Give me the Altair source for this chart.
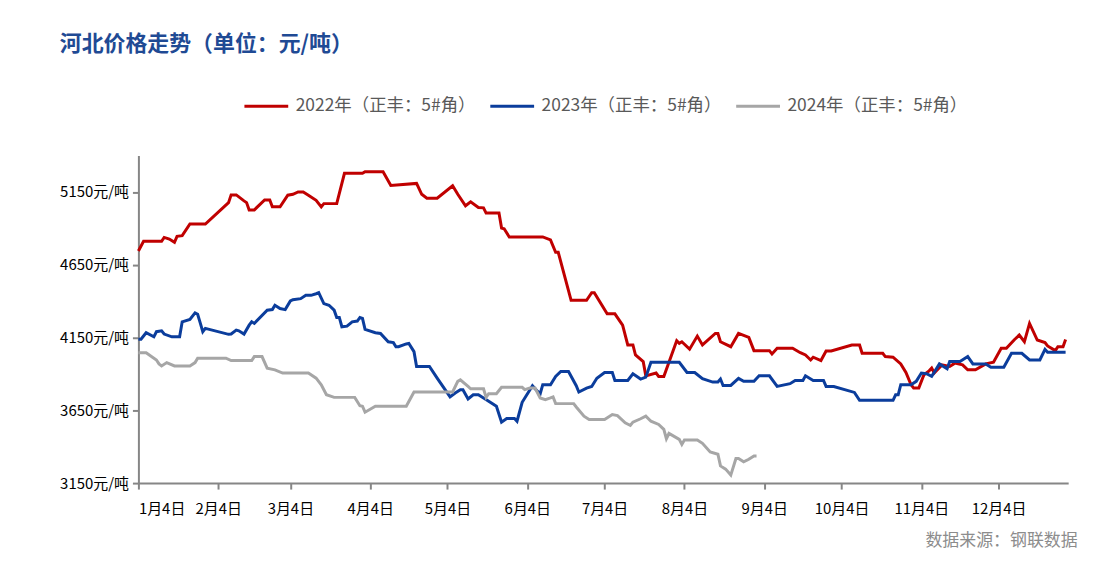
import altair as alt
import pandas as pd

series_names = ["2022年（正丰：5#角）", "2023年（正丰：5#角）", "2024年（正丰：5#角）"]
series_colors = ["#C00000", "#0B3D9C", "#A6A6A6"]

dates_2022 = ["01-04","01-06","01-13","01-14","01-16","01-18","01-19","01-21","01-24","01-30",
              "02-08","02-09","02-11","02-14","02-15","02-16","02-18","02-22","02-24","02-25","02-28",
              "03-03","03-05","03-07","03-09","03-11","03-14","03-16","03-17","03-22","03-25",
              "04-01","04-02","04-09","04-12","04-22","04-24","04-26","04-30",
              "05-06","05-08","05-11","05-13","05-16","05-18","05-19","05-24","05-25","05-26","05-28",
              "06-10","06-13","06-15","06-16","06-21","06-27","06-29","06-30",
              "07-05","07-08","07-11","07-13","07-15","07-16","07-19","07-20","07-24","07-25","07-27",
              "08-01","08-02","08-03","08-06","08-09","08-11","08-16","08-17","08-18","08-22","08-25","08-29","08-31",
              "09-06","09-07","09-09","09-15","09-18","09-20","09-22","09-23","09-26","09-28","09-30",
              "10-08","10-11","10-12","10-20","10-21","10-24","10-27","10-29","10-31",
              "11-01","11-03","11-05","11-07","11-08","11-09","11-12","11-15","11-17","11-20","11-22","11-25","11-29",
              "12-02","12-05","12-07","12-10","12-12","12-14","12-16","12-19","12-22","12-23","12-26","12-27","12-29","12-30"]
values_2022 = [4745,4811,4811,4838,4827,4804,4845,4850,4930,4930,
               5077,5130,5130,5089,5077,5027,5027,5095,5095,5048,5048,
               5128,5134,5150,5150,5128,5093,5048,5070,5070,5278,
               5278,5289,5289,5195,5209,5134,5107,5107,
               5193,5134,5055,5082,5043,5041,5005,5005,4902,4897,4841,
               4841,4821,4736,4736,4406,4406,4458,4458,
               4313,4313,4235,4099,4099,4030,3985,3887,3906,3883,3883,
               4128,4110,4121,4070,4160,4099,4178,4178,4121,4087,4178,4151,4060,
               4060,4037,4076,4076,4046,4030,3996,4015,3992,4058,4058,
               4099,4099,4042,4042,4019,4015,3969,3910,3826,
               3803,3803,3894,3921,3940,3906,3962,3951,3974,3962,3928,3928,3969,
               3980,4076,4076,4133,4167,4121,4247,4133,4115,4092,4060,4087,4087,4137]

dates_2023 = ["01-04","01-05","01-07","01-10","01-11","01-13","01-14","01-17","01-20","01-21","01-24","01-26","01-27","01-28","01-29","01-30",
              "02-08","02-09","02-11","02-12","02-14","02-16","02-17","02-18","02-23","02-25","02-26","02-28",
              "03-02","03-04","03-05","03-08","03-10","03-12","03-14","03-15","03-17","03-19","03-21","03-22","03-23","03-24","03-26","03-28","03-30","03-31",
              "04-01","04-02","04-06","04-08","04-11","04-13","04-14","04-15","04-18","04-19","04-21","04-22","04-27","04-30",
              "05-05","05-07","05-09","05-10","05-12","05-14","05-16","05-18","05-20","05-23","05-25","05-27","05-30","05-31",
              "06-02","06-06","06-08","06-09","06-10","06-13","06-15","06-17","06-20","06-23","06-24","06-27","06-29",
              "07-01","07-04","07-07","07-08","07-13","07-15","07-18","07-20","07-22",
              "08-02","08-05","08-08","08-11","08-15","08-17","08-18","08-19","08-22","08-25","08-27","08-31",
              "09-02","09-06","09-09","09-14","09-16","09-19","09-20","09-23","09-27","09-28",
              "10-01","10-09","10-11","10-24","10-25","10-26","10-27","10-31",
              "11-02","11-04","11-06","11-08","11-10","11-11","11-14","11-15","11-19","11-22","11-24","11-29",
              "12-01","12-06","12-09","12-13","12-16","12-20","12-22","12-23","12-30"]
values_2023 = [4138,4138,4183,4155,4190,4196,4174,4155,4155,4258,4274,4319,4310,4251,4190,4213,
               4172,4174,4201,4196,4174,4235,4258,4247,4338,4342,4372,4349,
               4342,4401,4410,4417,4440,4440,4451,4458,4383,4372,4338,4288,4288,4224,4228,4258,4263,4288,
               4281,4206,4183,4178,4121,4115,4087,4087,4106,4110,4053,3951,3951,3871,
               3742,3769,3792,3792,3728,3757,3757,3735,3712,3678,3569,3594,3594,3575,
               3705,3819,3780,3764,3826,3826,3883,3917,3917,3819,3776,3803,3814,
               3870,3910,3910,3855,3855,3901,3865,3878,3980,
               3980,3910,3910,3867,3844,3844,3865,3821,3821,3869,3849,3849,
               3887,3887,3814,3833,3855,3855,3887,3855,3855,3814,
               3814,3773,3719,3719,3757,3757,3826,3826,
               3849,3906,3901,3883,3940,3969,3935,3985,3985,4019,3969,3969,
               3946,3946,4042,4042,3996,3996,4069,4049,4049]

dates_2024 = ["01-04","01-07","01-11","01-12","01-13","01-15","01-18","01-24","01-26","01-27",
              "02-07","02-09","02-17","02-18","02-21","02-23","02-26",
              "03-01","03-11","03-14","03-16","03-18","03-21","03-29","03-31",
              "04-01","04-02","04-06","04-18","04-21",
              "05-06","05-08","05-09","05-12","05-13","05-18","05-19","05-20","05-23","05-25",
              "06-02","06-03","06-05","06-07","06-09","06-11","06-13","06-14","06-15","06-22","06-23","06-26","06-28",
              "07-04","07-07","07-09","07-12","07-14","07-15","07-18","07-20","07-22","07-25","07-27","07-28","07-29",
              "08-02","08-03","08-04","08-09","08-11","08-14","08-17","08-18","08-20","08-22","08-24","08-25","08-27","08-29","08-31",
              "09-01"]
values_2024 = [4046,4046,3996,3969,3955,3978,3955,3955,3978,4008,
               4008,3992,3992,4019,4019,3940,3928,
               3906,3906,3871,3826,3757,3739,3739,3682,
               3678,3637,3678,3678,3776,
               3776,3849,3860,3814,3798,3798,3739,3764,3764,3808,
               3808,3792,3803,3803,3735,3723,3735,3742,3696,3696,3673,3610,3587,
               3587,3621,3614,3564,3546,3569,3592,3610,3575,3553,3519,3455,3491,
               3450,3416,3446,3446,3423,3364,3348,3268,3246,3205,3319,3319,3296,3314,3337,
               3337]

y_ticks = [3150, 3650, 4150, 4650, 5150]
y_range = [3150, 5400]
tick_months = list(range(1, 13))

rows = []
for name, ds, vs in zip(series_names, [dates_2022, dates_2023, dates_2024],
                        [values_2022, values_2023, values_2024]):
    for d, v in zip(ds, vs):
        rows.append({"series": name, "date": "2022/" + d.replace("-", "/"), "price": v})
df = pd.DataFrame(rows)

FONT = "Liberation Sans Narrow, Noto Sans CJK SC"

x_enc = alt.X(
    "date:T",
    scale=alt.Scale(domain=[alt.DateTime(year=2022, month=1, date=4),
                            alt.DateTime(year=2022, month=12, date=31)]),
    axis=alt.Axis(
        values=[alt.DateTime(year=2022, month=m, date=4) for m in tick_months],
        format="%-m月%-d日", labelFont=FONT, labelFontSize=15, labelColor="#000000",
        labelPadding=13, tickSize=6, tickColor="#868686", tickWidth=2,
        domainColor="#868686", domainWidth=2, grid=False, labelOverlap=False,
        titleX=943, titleY=63, titleAlign="right", titleBaseline="alphabetic",
        titleFont="Noto Sans CJK SC", titleFontSize=17, titleFontWeight="normal",
        titleColor="#8C8C8C", titleAnchor="end",
    ),
    title="数据来源：钢联数据",
)

y_enc = alt.Y(
    "price:Q",
    scale=alt.Scale(domain=y_range, nice=False, zero=False),
    axis=alt.Axis(
        values=y_ticks, labelExpr="datum.value + '元/吨'", labelFont=FONT,
        labelFontSize=15, labelColor="#000000", labelPadding=4, tickSize=6,
        tickColor="#868686", tickWidth=2, domainColor="#868686", domainWidth=2,
        grid=False, title=None,
    ),
)

color_enc = alt.Color(
    "series:N",
    scale=alt.Scale(domain=series_names, range=series_colors),
    legend=alt.Legend(
        orient="none", legendX=105, legendY=-73, direction="horizontal", columns=3,
        title=None, symbolType="stroke", symbolSize=1936, symbolStrokeWidth=3,
        labelFont=FONT, labelFontSize=17.5, labelColor="#595959", labelLimit=400,
        columnPadding=8, labelOffset=6,
    ),
)

chart = (
    alt.Chart(df)
    .mark_line(strokeWidth=3)
    .encode(x=x_enc, y=y_enc, color=color_enc)
    .properties(
        width=934, height=329,
        autosize=alt.AutoSizeParams(type="none"),
        padding={"left": 131, "top": 147, "right": 40, "bottom": 80},
        title=alt.TitleParams(
            text="河北价格走势（单位：元/吨）", anchor="start", frame="group",
            dx=-79, offset=27, font="Noto Sans CJK SC", fontSize=22,
            fontWeight="bold", color="#1F4A94",
        ),
    )
    .configure_view(stroke=None)
)

chart.save("out.html", embed_options={"renderer": "svg", "actions": False})
